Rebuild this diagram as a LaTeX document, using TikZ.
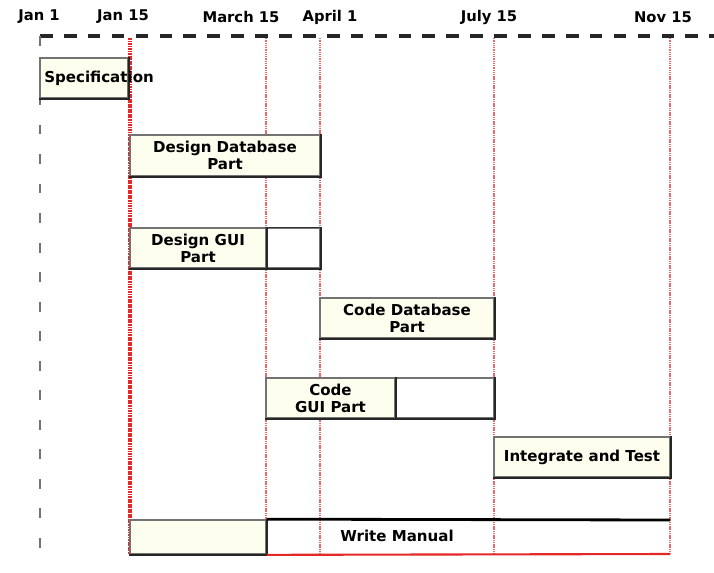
\documentclass[tikz,border=0pt]{standalone}
\usepackage{fontspec}
\setmainfont{DejaVu Sans}
\usetikzlibrary{fit}
\definecolor{taskfill}{RGB}{254,254,238}
\definecolor{mred}{RGB}{228,40,40}

\begin{document}
\begin{tikzpicture}[x=0.025cm, y=-0.025cm]
\tikzstyle{dateStyle} = [font = \fontsize{10.5}{12}\selectfont\bfseries, inner sep = 0pt]
\tikzstyle{taskStyle} = [draw = black!55, line width = 1.2pt, fill = taskfill, inner sep = 0pt]
\tikzstyle{labelStyle} = [inner sep = 0pt, align = center, font = \fontsize{10.7}{12.2}\selectfont\bfseries]
\tikzstyle{slackStyle} = [draw = black!55, line width = 1.2pt, fill = white, inner sep = 0pt]
\tikzstyle{shadeStyle} = [draw = black!85, line width = 1.6pt]
\tikzstyle{milestoneStyle} = [draw = mred!70, line width = 1.4pt, dash pattern = on 0.9pt off 0.7pt]
\tikzstyle{timeStyle} = [draw = black!85, line width = 2.2pt, dash pattern = on 9pt off 8pt]
\useasboundingbox (0,0) rectangle (714,572);
% dates
\node[dateStyle] (d1) at (39,17) {Jan 1};
\node[dateStyle] (d2) at (123,17) {Jan 15};
\node[dateStyle] (d3) at (241,17) {March 15};
\node[dateStyle] (d4) at (330,17) {April 1};
\node[dateStyle] (d5) at (489,17) {July 15};
\node[dateStyle] (d6) at (663,17) {Nov 15};
% time axis
\coordinate (axisL) at (40,36);
\coordinate (axisR) at (714,36);
\coordinate (axisB) at (40,562);
\draw[timeStyle] (axisL) -- (axisR);
\draw[draw = black!55, line width = 1.6pt, dash pattern = on 7pt off 14pt] (axisL) -- (axisB);
% milestones
\foreach \n/\x in {3/266, 4/320, 5/494, 6/670}{
  \coordinate (t\n) at (\x,38);
  \coordinate (b\n) at (\x,554);
  \draw[milestoneStyle] (t\n) -- (b\n);
}
\coordinate (t2) at (130,38);
\coordinate (b2) at (130,554);
\draw[draw = mred, line width = 2.4pt, dash pattern = on 1.3pt off 0.5pt] (t2) -- (b2);
% tasks
\node[taskStyle, fit = {(40,58) (128,98)}] (spec) {};
\node[taskStyle, fit = {(130,135) (320,176)}] (ddb) {};
\node[slackStyle, fit = {(266,228) (320,268)}] (dguiS) {};
\node[taskStyle, fit = {(130,228) (266,268)}] (dgui) {};
\node[taskStyle, fit = {(320,298) (494,338)}] (cdb) {};
\node[slackStyle, fit = {(395,378) (494,418)}] (cguiS) {};
\node[taskStyle, fit = {(266,378) (395,418)}] (cgui) {};
\node[taskStyle, fit = {(494,437) (670,477)}] (int) {};
\node[taskStyle, fit = {(130,520) (266,554)}] (wm) {};
\foreach \b in {spec, ddb, dgui, cdb, cgui, int, wm, dguiS, cguiS}{
  \draw[shadeStyle] (\b.south west) -- (\b.south east) -- (\b.north east);
}
\draw[black!80, line width = 0.8pt] (dguiS.north west) -- (dguiS.north east);
% labels
\node[labelStyle, anchor = west] (specT) at (44,78) {Specification};
\node[labelStyle] (ddbT) at (ddb.center) {Design Database\\Part};
\node[labelStyle] (dguiT) at (dgui.center) {Design GUI\\Part};
\node[labelStyle] (cdbT) at (cdb.center) {Code Database\\Part};
\node[labelStyle] (cguiT) at (cgui.center) {Code\\GUI Part};
\node[labelStyle] (intT) at (int.center) {Integrate and Test};
% write manual
\coordinate (wmR) at (670,520);
\coordinate (wmB) at (670,554);
\draw[black, line width = 2pt] (wm.north east) -- (wmR);
\draw[mred, line width = 1.5pt] (wm.south east) -- (wmB);
\node[labelStyle] (wmT) at (397,536) {Write Manual};
\end{tikzpicture}
\end{document}
